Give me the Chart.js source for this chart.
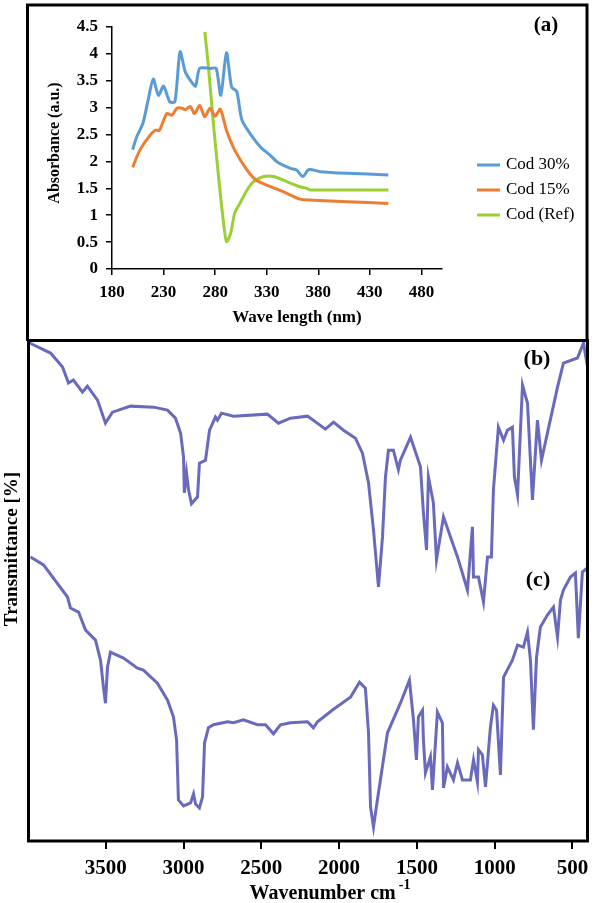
<!DOCTYPE html>
<html>
<head>
<meta charset="utf-8">
<title>UV-Vis and FTIR spectra</title>
<script src="https://cdn.jsdelivr.net/npm/chart.js@4.4.0/dist/chart.umd.min.js"></script>
<style>
    html, body { margin: 0; padding: 0; background: #fff; }
    #wrap { position: relative; width: 597px; height: 903px; overflow: hidden; }
    #irBox { position: absolute; left: 0; top: 330px; }
    #uvBox { position: absolute; left: 0; top: 0; }
</style>
</head>
<body>
<div id="wrap">
    <div id="irBox"><canvas id="irChart" width="597" height="573"></canvas></div>
    <div id="uvBox"><canvas id="uvChart" width="597" height="341"></canvas></div>
</div>
<script>
// ---- Panel (a): UV absorbance ----
const uvTicks = [180, 230, 280, 330, 380, 430, 480];

const uvWave30 = [200, 204, 210, 215, 220, 225, 230, 236, 241, 246, 251, 257, 261, 265, 275, 281, 285.5, 291, 296, 301, 306, 316, 324, 333, 341, 353, 359, 365, 371, 382, 408, 448];
const uvAbs30 = [2.22, 2.46, 2.71, 3.14, 3.53, 3.23, 3.40, 3.11, 3.11, 4.04, 3.67, 3.48, 3.40, 3.73, 3.73, 3.73, 3.23, 4.02, 3.38, 3.30, 2.77, 2.46, 2.27, 2.12, 1.98, 1.87, 1.84, 1.72, 1.85, 1.81, 1.78, 1.75];

const uvWave15 = [200, 207, 217, 222, 226, 233, 238, 243, 248, 251, 256, 260, 265, 270, 275, 280, 285, 291, 299, 311, 320, 330, 346, 362, 375, 408, 448];
const uvAbs15 = [1.89, 2.21, 2.49, 2.58, 2.58, 2.89, 2.86, 2.99, 2.99, 2.96, 3.02, 2.89, 3.04, 2.83, 2.99, 2.84, 2.97, 2.58, 2.21, 1.84, 1.65, 1.56, 1.44, 1.30, 1.28, 1.25, 1.22];

const uvWaveRef = [270, 273.5, 278, 283, 287.5, 291, 295, 299, 304, 311, 317, 327, 337, 350, 362, 369, 372, 448];
const uvAbsRef = [4.41, 3.76, 2.77, 1.78, 0.97, 0.51, 0.66, 1.04, 1.22, 1.47, 1.62, 1.72, 1.72, 1.62, 1.53, 1.50, 1.47, 1.47];

const uvLabels = ['Cod 30%', 'Cod 15%', 'Cod (Ref)'];

// ---- Panels (b) and (c): FTIR transmittance (arbitrary scale) ----
const irTicks = [3500, 3000, 2500, 2000, 1500, 1000, 500];

const irWaveB = [3990, 3855, 3778, 3740, 3708, 3650, 3618, 3553, 3502, 3457, 3341, 3193, 3103, 3052, 3019, 3000, 2995, 2981, 2968, 2949, 2910, 2898, 2859, 2833, 2795, 2782, 2756, 2679, 2461, 2390, 2313, 2203, 2088, 2036, 1972, 1895, 1850, 1811, 1779, 1747, 1721, 1702, 1683, 1651, 1619, 1606, 1541, 1477, 1458, 1438, 1426, 1394, 1374, 1329, 1284, 1239, 1200, 1175, 1143, 1136, 1104, 1072, 1046, 1021, 1008, 976, 943, 918, 886, 873, 853, 821, 789, 757, 725, 699, 661, 596, 558, 468, 429, 403];
const irTransB = [99.6, 97.6, 94.8, 91.6, 92.2, 89.8, 91.0, 88.2, 83.6, 85.8, 87.0, 86.8, 86.2, 84.6, 81.6, 76.8, 69.7, 73.7, 70.3, 67.5, 68.9, 75.6, 76.2, 82.2, 84.8, 84.2, 85.6, 85.0, 85.4, 83.6, 84.6, 85.0, 82.4, 83.8, 82.2, 80.6, 77.6, 71.7, 62.3, 50.9, 60.9, 72.9, 78.2, 78.2, 74.3, 76.2, 80.8, 74.9, 65.7, 58.3, 72.9, 67.7, 56.3, 64.9, 60.9, 56.9, 52.9, 50.3, 62.9, 52.9, 52.9, 47.9, 56.9, 56.9, 70.3, 82.8, 80.2, 82.2, 82.8, 72.9, 69.3, 91.2, 87.6, 68.3, 84.2, 76.2, 81.6, 90.8, 95.6, 96.6, 99.6, 94.8];

const irWaveC = [3984, 3900, 3746, 3727, 3675, 3630, 3566, 3534, 3515, 3502, 3489, 3470, 3386, 3296, 3258, 3168, 3103, 3065, 3045, 3033, 3000, 2955, 2936, 2923, 2898, 2878, 2865, 2840, 2808, 2718, 2679, 2615, 2525, 2473, 2422, 2377, 2313, 2203, 2165, 2139, 2036, 1927, 1869, 1831, 1811, 1798, 1779, 1754, 1689, 1606, 1548, 1522, 1503, 1490, 1464, 1458, 1445, 1413, 1400, 1368, 1336, 1329, 1304, 1265, 1239, 1207, 1156, 1136, 1111, 1104, 1079, 1059, 1027, 1008, 988, 963, 943, 886, 853, 815, 789, 770, 751, 731, 706, 661, 622, 596, 577, 558, 513, 481, 462, 436, 404];
const irTransC = [56.9, 55.3, 48.9, 46.7, 45.9, 42.3, 40.3, 36.3, 30.9, 27.7, 34.9, 37.9, 36.7, 34.7, 34.3, 31.7, 28.3, 25.0, 20.4, 8.4, 7.2, 7.8, 9.6, 7.6, 6.8, 9.0, 19.8, 22.8, 23.4, 24.0, 23.8, 24.4, 23.4, 23.4, 21.6, 23.4, 23.8, 24.0, 22.8, 24.0, 26.5, 28.9, 31.9, 30.7, 21.8, 7.0, 3.0, 8.4, 21.8, 27.7, 32.3, 24.4, 16.4, 25.0, 26.3, 20.4, 13.8, 17.0, 10.4, 25.9, 23.8, 10.8, 15.0, 12.4, 15.8, 12.4, 12.4, 16.4, 12.0, 18.4, 17.4, 11.0, 23.0, 27.3, 26.3, 13.4, 32.9, 36.3, 39.3, 38.9, 41.9, 36.3, 22.4, 36.9, 42.9, 45.3, 46.9, 40.9, 48.3, 50.3, 52.9, 53.7, 40.7, 53.9, 54.7];

const SERIF = "'Liberation Serif', 'Times New Roman', serif";

function pairs(xs, ys) {
    return xs.map((x, i) => ({ x: x, y: ys[i] }));
}

function lineSet(label, xs, ys, color, tension) {
    return {
        label: label,
        data: pairs(xs, ys),
        showLine: true,
        borderColor: color,
        backgroundColor: color,
        borderWidth: 3,
        pointRadius: 0,
        tension: tension,
        fill: false
    };
}

function drawText(ctx, text, x, y, font, align, rotate) {
    ctx.save();
    ctx.font = font;
    ctx.fillStyle = '#000';
    ctx.textAlign = align || 'center';
    ctx.textBaseline = 'middle';
    ctx.translate(x, y);
    if (rotate) ctx.rotate(rotate);
    ctx.fillText(text, 0, 0);
    ctx.restore();
}

// frame, titles and legend for panel (a)
const uvDecor = {
    id: 'uvDecor',
    afterDraw(chart) {
        const ctx = chart.ctx;
        ctx.save();
        ctx.strokeStyle = '#000';
        ctx.lineWidth = 3;
        ctx.strokeRect(27.5, 5, 559.5, 335.5);
        ctx.restore();

        drawText(ctx, 'Absorbance (a.u.)', 55, 143, 'bold 16px ' + SERIF, 'center', -Math.PI / 2);
        drawText(ctx, 'Wave length (nm)', 297, 318, 'bold 17px ' + SERIF);
        drawText(ctx, '(a)', 546, 26, 'bold 21px ' + SERIF);

        // legend
        chart.data.datasets.forEach((ds, i) => {
            const y = 165 + i * 25;
            ctx.save();
            ctx.strokeStyle = ds.borderColor;
            ctx.lineWidth = 3;
            ctx.beginPath();
            ctx.moveTo(477, y);
            ctx.lineTo(500, y);
            ctx.stroke();
            ctx.restore();
            drawText(ctx, ds.label, 506, y, '17px ' + SERIF, 'left');
        });
    }
};

// frame, titles and panel letters for (b) and (c)
const irDecor = {
    id: 'irDecor',
    afterDraw(chart) {
        const ctx = chart.ctx;
        ctx.save();
        ctx.strokeStyle = '#000';
        ctx.lineWidth = 3;
        ctx.strokeRect(28.5, 10.5, 559, 500.5);
        ctx.restore();

        drawText(ctx, 'Transmittance [%]', 12, 219, 'bold 19px ' + SERIF, 'center', -Math.PI / 2);
        drawText(ctx, '(b)', 537, 29, 'bold 22px ' + SERIF);
        drawText(ctx, '(c)', 538, 250, 'bold 22px ' + SERIF);

        // axis title with superscript
        ctx.save();
        ctx.fillStyle = '#000';
        ctx.textBaseline = 'alphabetic';
        ctx.font = 'bold 20px ' + SERIF;
        const main = 'Wavenumber cm';
        const mainW = ctx.measureText(main).width;
        ctx.font = 'bold 14px ' + SERIF;
        const supW = ctx.measureText('-1').width;
        const x0 = 330 - (mainW + supW + 3) / 2;
        ctx.font = 'bold 20px ' + SERIF;
        ctx.fillText(main, x0, 569);
        ctx.font = 'bold 14px ' + SERIF;
        ctx.fillText('-1', x0 + mainW + 3, 559);
        ctx.restore();
    }
};

function setTicks(values) {
    return function(axis) {
        axis.ticks = values.map(v => ({ value: v }));
    };
}

// Panel (a)
new Chart(document.getElementById('uvChart'), {
    type: 'scatter',
    data: {
        datasets: [
            lineSet(uvLabels[0], uvWave30, uvAbs30, '#5B9BD5', 0.25),
            lineSet(uvLabels[1], uvWave15, uvAbs15, '#ED7D31', 0.25),
            lineSet(uvLabels[2], uvWaveRef, uvAbsRef, '#9BCF35', 0.25)
        ]
    },
    options: {
        responsive: false,
        animation: false,
        devicePixelRatio: 1,
        layout: { padding: { left: 0, right: 155, top: 27, bottom: 0 } },
        plugins: { legend: { display: false }, tooltip: { enabled: false } },
        scales: {
            x: {
                type: 'linear',
                min: 180,
                max: 500,
                afterBuildTicks: setTicks(uvTicks),
                afterFit: s => { s.height = 72; },
                grid: { drawOnChartArea: false, color: '#000', lineWidth: 1.5, tickLength: 6 },
                border: { color: '#000', width: 1.5 },
                ticks: {
                    color: '#000',
                    padding: 7,
                    maxRotation: 0,
                    font: { family: SERIF, size: 17, weight: 'bold' },
                    callback: v => String(v)
                }
            },
            y: {
                min: 0,
                max: 4.5,
                afterFit: s => { s.width = 112; },
                grid: { drawOnChartArea: false, color: '#000', lineWidth: 1.5, tickLength: 6 },
                border: { color: '#000', width: 1.5 },
                ticks: {
                    stepSize: 0.5,
                    color: '#000',
                    padding: 8,
                    font: { family: SERIF, size: 17, weight: 'bold' },
                    callback: v => String(v)
                }
            }
        }
    },
    plugins: [uvDecor]
});

// Panels (b) and (c)
new Chart(document.getElementById('irChart'), {
    type: 'scatter',
    data: {
        datasets: [
            lineSet('(b)', irWaveB, irTransB, '#6A6ABD', 0),
            lineSet('(c)', irWaveC, irTransC, '#6A6ABD', 0)
        ]
    },
    options: {
        responsive: false,
        animation: false,
        devicePixelRatio: 1,
        layout: { padding: { left: 28, right: 9, top: 11, bottom: 0 } },
        plugins: { legend: { display: false }, tooltip: { enabled: false } },
        scales: {
            x: {
                type: 'linear',
                reverse: true,
                min: 400,
                max: 4000,
                afterBuildTicks: setTicks(irTicks),
                afterFit: s => { s.height = 61; },
                grid: { drawOnChartArea: false, color: '#000', lineWidth: 2, tickLength: 7 },
                border: { display: false },
                ticks: {
                    color: '#000',
                    padding: 7,
                    maxRotation: 0,
                    font: { family: SERIF, size: 21, weight: 'bold' },
                    callback: v => String(v)
                }
            },
            y: {
                display: false,
                min: 0,
                max: 100
            }
        }
    },
    plugins: [irDecor]
});
</script>
</body>
</html>
